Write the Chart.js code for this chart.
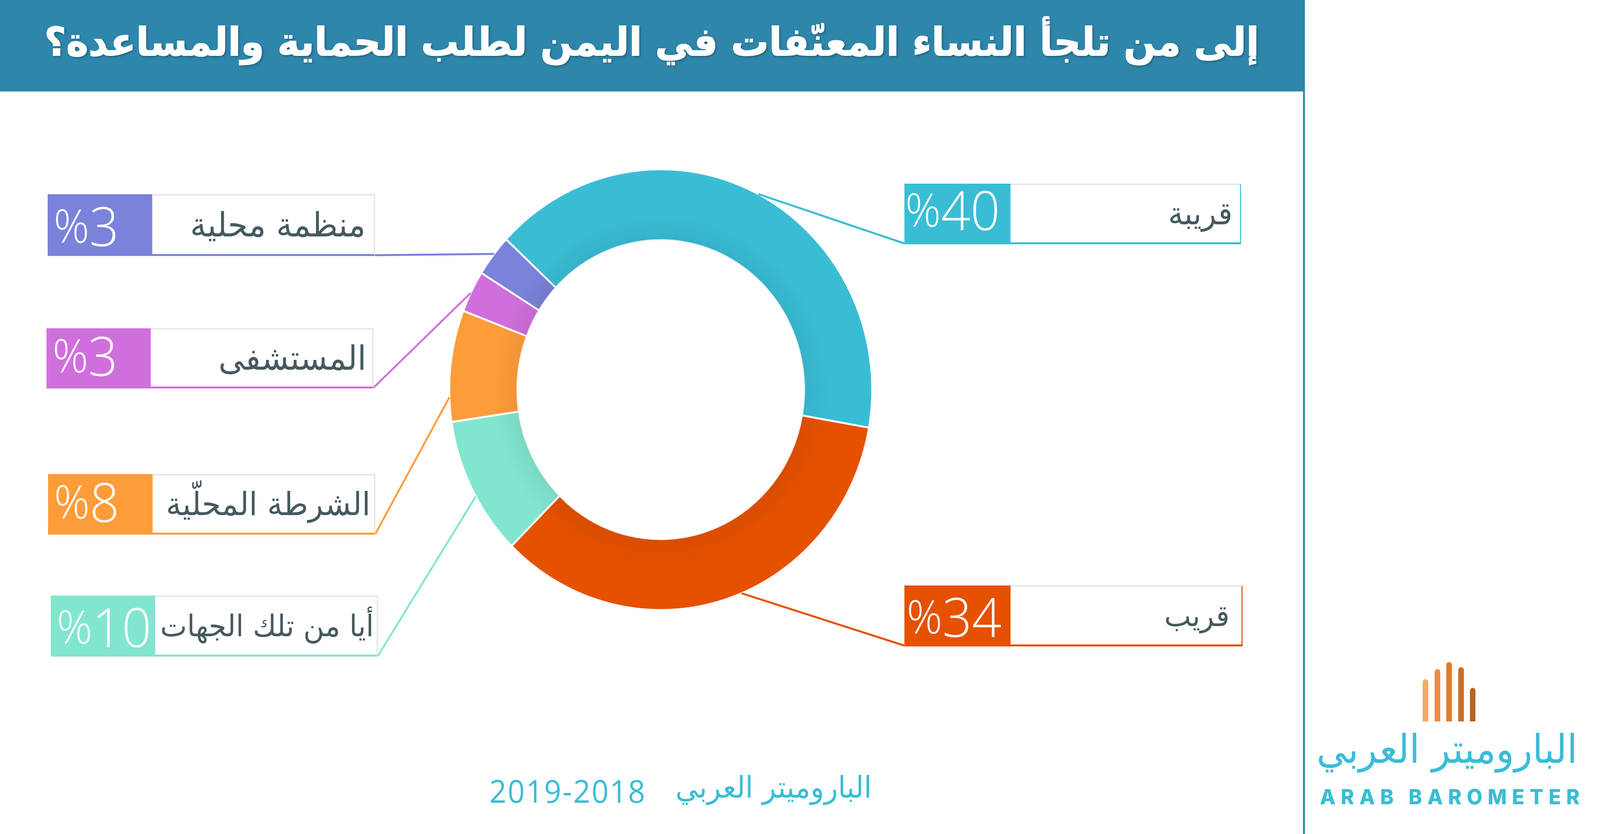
<!DOCTYPE html>
<html lang="ar">
<head>
<meta charset="utf-8">
<title>إلى من تلجأ النساء المعنّفات في اليمن لطلب الحماية والمساعدة؟</title>
<script src="https://cdn.jsdelivr.net/npm/chart.js@4"></script>
<style>
html, body { margin: 0; padding: 0; background: #fff; overflow: hidden; }
#page { position: absolute; left: 0; top: 0; width: 4267px; height: 2134px; overflow: hidden; background: #fff; font-family: "DejaVu Sans", sans-serif; transform-origin: 0 0; }
#donut { position: absolute; left: 0; top: 0; }
#titleBar { position: absolute; left: 0; top: 0; width: 3478px; height: 234px; background: #2e86ab; }
#titleBar div { position: absolute; right: 120px; top: 48px; color: #fff; font-size: 100.5px; font-weight: bold; line-height: 120px; white-space: nowrap; direction: rtl; -webkit-text-stroke: 2px #fff; text-shadow: 3px 3px 6px rgba(0,0,0,.35); }
#sideRule { position: absolute; left: 3475px; top: 0; width: 5px; height: 2134px; background: #2e86ab; }
.box { position: absolute; box-sizing: border-box; background: #fff; border: 3px solid #e2e2e2; border-bottom-width: 5px; }
.box .pct { position: absolute; left: -3px; top: -3px; bottom: -5px; box-sizing: border-box; color: #fff; font-family: "Open Sans", sans-serif; font-weight: 300; font-size: 138px; line-height: 1; display: flex; align-items: center; direction: ltr; }
.box .pct span { font-size: 118px; }
.box .lbl { position: absolute; top: 0; bottom: 0; display: flex; align-items: center; color: #46595f; direction: rtl; white-space: nowrap; }
#sourceName { position: absolute; right: 1942px; top: 1970px; color: #39bdd5; font-size: 76px; line-height: 90px; white-space: nowrap; direction: rtl; }
#sourceYears { position: absolute; left: 1305px; top: 1968px; color: #39bdd5; font-family: "Open Sans", sans-serif; font-size: 80px; line-height: 110px; letter-spacing: 3px; white-space: nowrap; direction: ltr; }
.logoBar { position: absolute; width: 15px; border-radius: 8px 8px 0 0; }
#logoAr { position: absolute; right: 60px; top: 1852px; line-height: 130px; color: #39bdd5; font-size: 101px; white-space: nowrap; direction: rtl; }
#logoEn { position: absolute; left: 3520px; top: 2007px; color: #39bdd5; font-family: Inter, sans-serif; font-weight: 800; font-size: 54px; line-height: 64px; letter-spacing: 14px; white-space: nowrap; direction: ltr; }
</style>
</head>
<body>
<div id="page">
  <canvas id="donut" width="4267" height="2134"></canvas>
  <div id="titleBar"><div id="titleText"></div></div>
  <div id="sideRule"></div>
  <div id="sourceName"></div>
  <div id="sourceYears"></div>
  <div id="logoAr"></div>
  <div id="logoEn"></div>
</div>
<script>
const titleText = 'إلى من تلجأ النساء المعنّفات في اليمن لطلب الحماية والمساعدة؟';
const sourceName = 'الباروميتر العربي';
const sourceYears = '2019-2018';

const categories = ['قريبة', 'قريب', 'أيا من تلك الجهات', 'الشرطة المحلّية', 'المستشفى', 'منظمة محلية'];
const shares = [40, 34, 10, 8, 3, 3];
const sliceColors = ['#39bdd5', '#e65100', '#82e6cf', '#ff9c3a', '#d06fdc', '#7a82db'];

// callout layout in page pixels: box rect, colour split, label inset, where the leader meets the ring
const calloutLayout = [
    { x: 2412, y: 470, w: 898, h: 155, split: 283, size: 80, inset: 20, pad: 2, lift: 9, side: true, angle: 27.5 },
    { x: 2412, y: 1498, w: 902, h: 156, split: 283, size: 76, inset: 32, pad: 6, lift: -4, side: true, angle: 157.5 },
    { x: 135, y: 1524, w: 873, h: 156, split: 279, size: 76, inset: 8, pad: 16, lift: -5, side: false, angle: 241 },
    { x: 128, y: 1213, w: 873, h: 155, split: 279, size: 82, inset: 10, pad: 16, lift: 5, side: false, angle: 268 },
    { x: 124, y: 840, w: 872, h: 154, split: 278, size: 86, inset: 16, pad: 16, lift: 5, side: false, angle: 296 },
    { x: 127, y: 497, w: 873, h: 158, split: 279, size: 86, inset: 22, pad: 16, lift: -5, side: false, angle: 308 }
];

const logoBars = [
    { x: 3794, top: 1738, color: '#f7a965' },
    { x: 3826, top: 1712, color: '#f08a45' },
    { x: 3857, top: 1694, color: '#e07a26' },
    { x: 3889, top: 1707, color: '#c96f22' },
    { x: 3920, top: 1760, color: '#b8651f' }
];

const page = document.getElementById('page');
document.getElementById('titleText').textContent = titleText;
document.getElementById('sourceName').textContent = sourceName;
document.getElementById('sourceYears').textContent = sourceYears;
document.getElementById('logoAr').textContent = sourceName;
document.getElementById('logoEn').textContent = 'ARAB BAROMETER';

// the sheet is laid out at 4267x2134, fit it to whatever window we really get
page.style.transform = `scale(${window.innerWidth / 4267}, ${window.innerHeight / 2134})`;

logoBars.forEach(bar => {
    const el = document.createElement('div');
    el.className = 'logoBar';
    el.style.left = bar.x + 'px';
    el.style.top = bar.top + 'px';
    el.style.height = (1846 - bar.top) + 'px';
    el.style.background = bar.color;
    page.appendChild(el);
});

categories.forEach((name, i) => {
    const spot = calloutLayout[i];
    const box = document.createElement('div');
    box.className = 'box';
    box.style.cssText = `left:${spot.x}px;top:${spot.y}px;width:${spot.w}px;height:${spot.h}px;border-bottom-color:${sliceColors[i]}`;
    if (spot.side) box.style.borderRightColor = sliceColors[i];
    const pct = document.createElement('div');
    pct.className = 'pct';
    pct.style.width = spot.split + 'px';
    pct.style.background = sliceColors[i];
    pct.style.paddingLeft = spot.pad + 'px';
    pct.style.paddingBottom = Math.max(2 * (spot.lift + 4), 0) + 'px';
    const sign = document.createElement('span');
    sign.textContent = '%';
    pct.append(sign, String(shares[i]));
    const lbl = document.createElement('div');
    lbl.className = 'lbl';
    lbl.style.right = spot.inset + 'px';
    lbl.style.fontSize = spot.size + 'px';
    lbl.textContent = name;
    box.append(pct, lbl);
    page.appendChild(box);
});

// leader lines run from the ring edge to the lower inner corner of each callout box
const leaderLines = {
    id: 'leaderLines',
    afterDatasetsDraw(chart) {
        const arc = chart.getDatasetMeta(0).data[0];
        const { ctx } = chart;
        const { x: cx, y: cy, outerRadius } = arc.getProps(['x', 'y', 'outerRadius'], true);
        calloutLayout.forEach((spot, i) => {
            const a = spot.angle * Math.PI / 180;
            const cornerX = spot.side ? spot.x : spot.x + spot.w;
            ctx.save();
            ctx.strokeStyle = sliceColors[i];
            ctx.lineWidth = 5;
            ctx.beginPath();
            ctx.moveTo(cx + outerRadius * Math.sin(a), cy - outerRadius * Math.cos(a));
            ctx.lineTo(cornerX, spot.y + spot.h - 2);
            ctx.stroke();
            ctx.restore();
        });
    }
};

// soft shading the hole casts on the inside of the ring
const ringShade = {
    id: 'ringShade',
    afterDatasetsDraw(chart) {
        const arc = chart.getDatasetMeta(0).data[0];
        const { ctx } = chart;
        const { x: cx, y: cy, innerRadius } = arc.getProps(['x', 'y', 'innerRadius'], true);
        const shadeWidth = 70;
        const grad = ctx.createRadialGradient(cx, cy, innerRadius, cx, cy, innerRadius + shadeWidth);
        grad.addColorStop(0, 'rgba(0,0,0,0.06)');
        grad.addColorStop(1, 'rgba(0,0,0,0)');
        ctx.save();
        ctx.fillStyle = grad;
        ctx.beginPath();
        ctx.arc(cx, cy, innerRadius + shadeWidth, 0, Math.PI * 2);
        ctx.arc(cx, cy, innerRadius, 0, Math.PI * 2, true);
        ctx.fill();
        ctx.restore();
    }
};

new Chart(document.getElementById('donut'), {
    type: 'doughnut',
    data: {
        labels: categories,
        datasets: [{
            data: shares,
            backgroundColor: sliceColors,
            borderColor: '#ffffff',
            borderWidth: 5
        }]
    },
    options: {
        responsive: false,
        animation: false,
        rotation: -47,
        radius: 564,
        cutout: 380,
        layout: { padding: { left: 1199, right: 1942, top: 434, bottom: 574 } },
        plugins: { legend: { display: false }, tooltip: { enabled: false } }
    },
    plugins: [ringShade, leaderLines]
});
</script>
</body>
</html>
